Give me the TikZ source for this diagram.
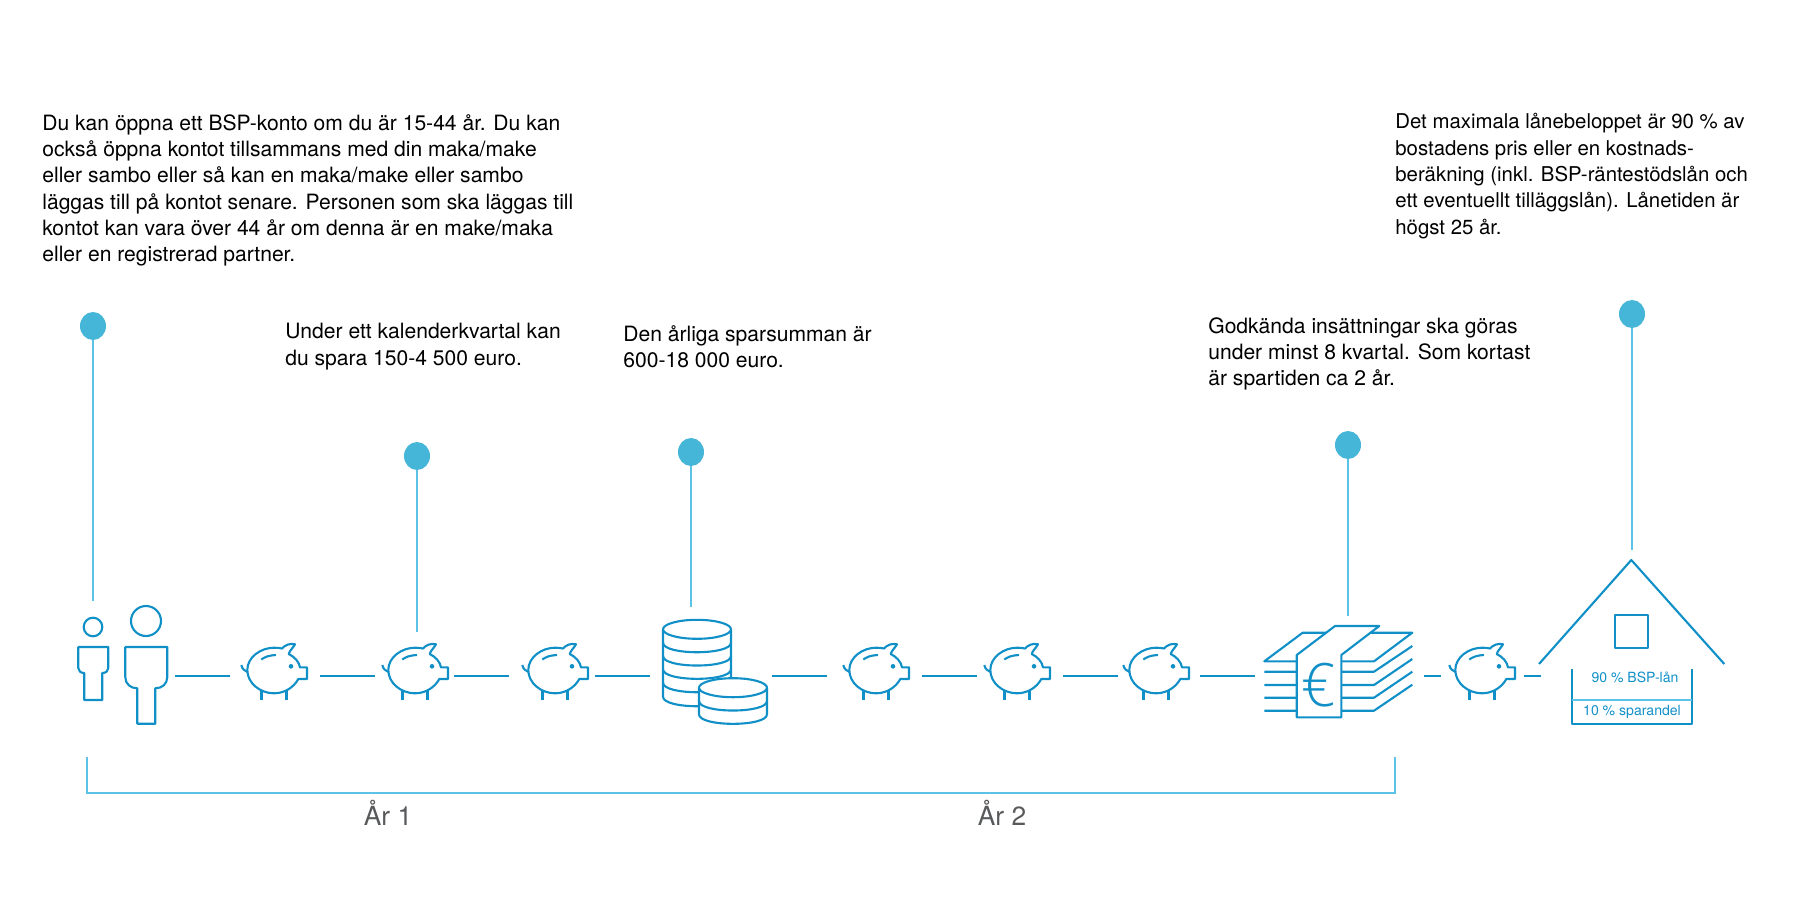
\documentclass[tikz,border=0pt]{standalone}
\usepackage{fontspec}
\setmainfont{TeX Gyre Heros}
\newfontfamily\eurofont{Open Sans Light}
\usepackage{xcolor}
\usetikzlibrary{shapes,positioning}
\definecolor{iconblue}{HTML}{1190C8}
\definecolor{dotblue}{HTML}{45B5D8}
\definecolor{pinblue}{HTML}{5CC3E6}
\definecolor{yeargray}{HTML}{58595B}
\tikzstyle{icon} = [draw=iconblue, line width=1.2pt, line join=round]
\tikzstyle{link} = [draw=iconblue, line width=1.2pt]
\tikzstyle{pinline} = [draw=pinblue, line width=1.1pt]
\tikzstyle{pindot} = [ellipse, fill=dotblue, inner sep=0, minimum width=0.52cm, minimum height=0.56cm]
\tikzstyle{holder} = [inner sep=0, minimum height=0.2cm]
\tikzstyle{info} = [anchor=north west, inner sep=0, align=left, font=\fontsize{12}{15}\selectfont]
\tikzstyle{share} = [inner sep=0, text=iconblue, font=\fontsize{8}{9}\selectfont]
\tikzstyle{year} = [inner sep=0, text=yeargray, font=\fontsize{15}{17}\selectfont]
\tikzset{pig/.pic={
	\draw[icon] (-26.7,0) .. controls (-26.7,-13) and (-13,-22.3) .. (0,-22.3) .. controls (3,-22.3) and (6,-22) .. (8,-21.5) .. controls (11,-25) and (16,-27) .. (21,-25.7) .. controls (19,-22) and (16,-20) .. (14.7,-16) .. controls (21,-13) and (25,-8) .. (26,-2.7) -- (33,-2.7) -- (33,9) -- (24.3,9) .. controls (20,17) and (11,23.3) .. (0,23.3) .. controls (-14,23.3) and (-26.7,13) .. (-26.7,0) -- cycle; % body
	\draw[icon] (-32.7,-5) .. controls (-32,-1) and (-29,1) .. (-26.5,2); % tail
	\draw[icon] (-12.7,-10.5) .. controls (-9,-13) and (-6,-14.5) .. (2,-15); % back
	\fill[iconblue] (17,-3.7) circle (2.3); % eye
	\draw[icon] (-12.5,21) -- (-12.5,30.3); % leg
	\draw[icon] (12.5,21) -- (12.5,30.3); % leg
}}

\begin{document}
\begin{tikzpicture}[x=0.02cm,y=-0.02cm]
		\useasboundingbox (0,0) rectangle (1800,900);
		
		\node (Txt1) [info] at (42,114) {Du kan öppna ett BSP-konto om du är 15-44 år. Du kan\\också öppna kontot tillsammans med din maka/make\\eller sambo eller så kan en maka/make eller sambo\\läggas till på kontot senare. Personen som ska läggas till\\kontot kan vara över 44 år om denna är en make/maka\\eller en registrerad partner.}; % first text
		\node (Txt2) [info] at (285,323) {Under ett kalenderkvartal kan\\du spara 150-4 500 euro.}; % quarter
		\node (Txt3) [info] at (623,325) {Den årliga sparsumman är\\600-18 000 euro.}; % year
		\node (Txt4) [info] at (1208,317) {Godkända insättningar ska göras\\under minst 8 kvartal. Som kortast\\är spartiden ca 2 år.}; % deposits
		\node (Txt5) [info,font=\fontsize{11.6}{15}\selectfont] at (1395,113) {Det maximala lånebeloppet är 90 \% av\\bostadens pris eller en kostnads-\\beräkning (inkl. BSP-räntestödslån och\\ett eventuellt tilläggslån). Lånetiden är\\högst 25 år.}; % loan
		
		\node (Dot1) [pindot] at (93,326) {}; \coordinate (End1) at (93,601); % pin persons
		\node (Dot2) [pindot] at (417,456) {}; \coordinate (End2) at (417,632); % pin pig
		\node (Dot3) [pindot] at (691,452) {}; \coordinate (End3) at (691,607); % pin coins
		\node (Dot4) [pindot] at (1348,445) {}; \coordinate (End4) at (1348,616); % pin money
		\node (Dot5) [pindot] at (1632,314) {}; \coordinate (End5) at (1632,550); % pin house
		\draw[pinline] (Dot1) -- (End1);
		\draw[pinline] (Dot2) -- (End2);
		\draw[pinline] (Dot3) -- (End3);
		\draw[pinline] (Dot4) -- (End4);
		\draw[pinline] (Dot5) -- (End5);
		
		\draw[icon] (93,627) circle (9.3); % small head
		\draw[icon] (78.3,647) -- (108.3,647) -- (108.3,668) .. controls (108.3,671) and (106,673) .. (102.3,673) -- (102.3,700) -- (84.3,700) -- (84.3,673) .. controls (80.6,673) and (78.3,671) .. (78.3,668) -- cycle; % small body
		\draw[icon] (146,621) circle (15); % big head
		\draw[icon] (125.3,647) -- (167.3,647) -- (167.3,677) .. controls (167.3,684) and (162,688.3) .. (155.3,688.3) -- (155.3,723.7) -- (137.3,723.7) -- (137.3,688.3) .. controls (130.6,688.3) and (125.3,684) .. (125.3,677) -- cycle; % big body
		
		\pic at (274,670) {pig}; \node (Pig1) [holder,minimum width=1.8cm] at (275,676) {};
		\pic at (415,670) {pig}; \node (Pig2) [holder,minimum width=1.58cm] at (414.5,676) {};
		\pic at (555,670) {pig}; \node (Pig3) [holder,minimum width=1.72cm] at (552,676) {};
		\pic at (876,670) {pig}; \node (Pig4) [holder,minimum width=1.9cm] at (874.5,676) {};
		\pic at (1017,670) {pig}; \node (Pig5) [holder,minimum width=1.72cm] at (1020,676) {};
		\pic at (1156,670) {pig}; \node (Pig6) [holder,minimum width=1.64cm] at (1159,676) {};
		\pic at (1482,670) {pig}; \node (Pig7) [holder,minimum width=1.66cm] at (1482.5,676) {};
		
		% big stack of coins
		\draw[icon] (697,629.3) ellipse [x radius=34,y radius=9.5];
		\draw[icon] (663,629.3) -- (663,696.7) .. controls (663,709.4) and (731,709.4) .. (731,696.7) -- (731,629.3);
		\foreach \y in {642.7,656,669.3,682.7} { \draw[icon] (663,\y) .. controls (663,\y+12.7) and (731,\y+12.7) .. (731,\y); }
		% small stack of coins
		\draw[icon,fill=white] (699,687.7) -- (699,714.3) .. controls (699,727) and (767,727) .. (767,714.3) -- (767,687.7) -- cycle;
		\draw[icon,fill=white] (733,687.7) ellipse [x radius=34,y radius=9.5];
		\draw[icon] (699,701) .. controls (699,713.7) and (767,713.7) .. (767,701);
		
		% bills
		\draw[icon] (1264.3,661.3) -- (1302.7,632.7) -- (1412.3,632.7) -- (1374,661.3) -- cycle;
		\foreach \y/\z in {671.7/646,685/659,697.7/671.7,710.7/684.7} { \draw[icon] (1264.3,\y) -- (1374,\y) -- (1412.3,\z); }
		\draw[icon,fill=white] (1296.7,655) -- (1335,626) -- (1379.3,626) -- (1341.3,655) -- (1341.3,717.3) -- (1296.7,717.3) -- cycle; % band
		\node (Euro) [inner sep=0,text=iconblue,font=\fontsize{34}{35}\eurofont] at (1319,685) {€};
		
		% house
		\draw[icon] (1539,664) -- (1631.3,560) -- (1724.3,664); % roof
		\draw[icon] (1615,614.7) rectangle (1648.3,648); % window
		\draw[icon] (1571.7,669) -- (1571.7,724.3) -- (1691.7,724.3) -- (1691.7,669); % basin
		\draw[pinline] (1571.7,699.7) -- (1691.7,699.7); % level
		\node (Share1) [share] at (1635,677) {90 \% BSP-lån};
		\node (Share2) [share] at (1632,712) {10 \% sparandel};
		
		\node (Pers) [holder,minimum width=1.16cm] at (146,676) {};
		\node (Coins) [holder,minimum width=2.44cm] at (711,676) {};
		\node (Bills) [holder,minimum width=3.38cm] at (1339.5,676) {};
		\node (Home) [holder,minimum width=3.64cm] at (1632,676) {};
		\draw[link] (Pers) -- (Pig1);
		\draw[link] (Pig1) -- (Pig2);
		\draw[link] (Pig2) -- (Pig3);
		\draw[link] (Pig3) -- (Coins);
		\draw[link] (Coins) -- (Pig4);
		\draw[link] (Pig4) -- (Pig5);
		\draw[link] (Pig5) -- (Pig6);
		\draw[link] (Pig6) -- (Bills);
		\draw[link] (Bills) -- (Pig7);
		\draw[link] (Pig7) -- (Home);
		
		\draw[pinline] (87.3,757) -- (87.3,793) -- (1395,793) -- (1395,757); % bracket
		\node (Year1) [year] at (388,813) {År 1};
		\node (Year2) [year] at (1002,813) {År 2};
		
\end{tikzpicture}
\end{document}
